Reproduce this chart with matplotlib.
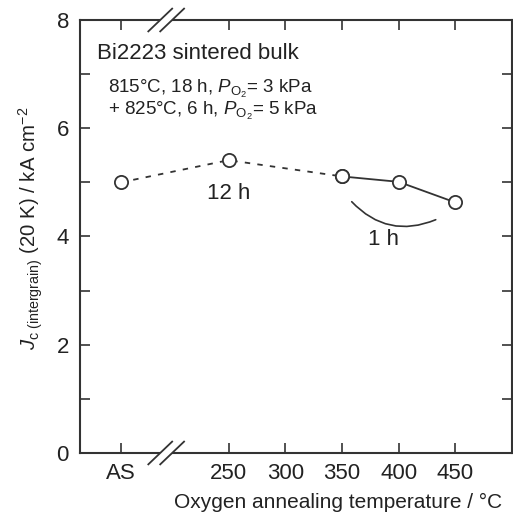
import matplotlib
matplotlib.use("Agg")
import matplotlib.pyplot as plt
from matplotlib.patches import FancyArrowPatch, Polygon

plt.rcParams['font.family'] = ['Liberation Sans', 'DejaVu Sans']
plt.rcParams['mathtext.fontset'] = 'custom'
plt.rcParams['mathtext.rm'] = 'Liberation Sans'
plt.rcParams['mathtext.it'] = 'Liberation Sans:italic'

# Data (AS = as-sintered, placed left of the axis break)
temp_12h = [155, 250, 350]
jc_12h = [5.0, 5.41, 5.11]
temp_1h = [350, 400, 450]
jc_1h = [5.11, 5.01, 4.63]

xtick_pos = [155, 250, 300, 350, 400, 450]
xtick_labels = ['AS', '250', '300', '350', '400', '450']
ytick_major = [0, 2, 4, 6, 8]
ytick_minor = [1, 3, 5, 7]

col = '#333333'
tcol = '#222222'

fig = plt.figure(figsize=(5.13, 5.13), dpi=100)
ax = fig.add_axes([0.156, 0.117, 0.842, 0.844])

ax.plot(temp_12h, jc_12h, ls=(0, (3, 4)), color=col, lw=1.3, marker='o',
        ms=9.5, mfc='white', mec=col, mew=1.3, zorder=3)
ax.plot(temp_1h, jc_1h, ls='-', color=col, lw=1.3, marker='o',
        ms=9.5, mfc='white', mec=col, mew=1.3, zorder=4)

ax.set_xlim(119, 500)
ax.set_ylim(0, 8)
ax.set_xticks(xtick_pos)
ax.set_xticklabels(xtick_labels)
ax.set_yticks(ytick_major)
ax.set_yticks(ytick_minor, minor=True)
ax.tick_params(which='both', direction='in', top=True, right=True,
               length=7, width=1.2, color=col, labelsize=16, labelcolor=tcol,
               pad=7)
ax.tick_params(axis='y', pad=8)
for s in ax.spines.values():
    s.set_linewidth(1.5)
    s.set_color(col)

ax.set_xlabel('Oxygen annealing temperature / °C', fontsize=15, color=tcol,
              loc='right')
ax.xaxis.set_label_coords(0.977, -0.092)
ax.set_ylabel(r'$J_{\mathrm{c\ (intergrain)}}$ (20 K) / kA cm$^{-2}$',
              fontsize=14.7, color=tcol)
ax.yaxis.set_label_coords(-0.08, 0.518)

# axis break marks
bx = 195
dx = 10.5   # half width of a slash (data units)
dy = 0.21   # half height of a slash
gap = 10.5  # spacing between slashes
for yb in (0, 8):
    x1 = bx - gap / 2
    x2 = bx + gap / 2
    ax.add_patch(Polygon([(x1 - dx, yb - dy), (x1 + dx, yb + dy),
                          (x2 + dx, yb + dy), (x2 - dx, yb - dy)],
                         closed=True, facecolor='white', edgecolor='none',
                         clip_on=False, zorder=5))
    for xc in (x1, x2):
        ax.plot([xc - dx, xc + dx], [yb - dy, yb + dy], color=col, lw=1.3,
                clip_on=False, zorder=6)

ax.text(134, 7.39, 'Bi2223 sintered bulk', fontsize=16, color=tcol,
        va='center', ha='left')
ax.text(144, 6.52, '815°C, 18 h, $P_{\\mathrm{O_2}}$= 3 kPa\n'
        '+ 825°C, 6 h, $P_{\\mathrm{O_2}}$= 5 kPa', fontsize=13.5,
        color=tcol, va='center', ha='left', linespacing=1.0)

ax.text(250, 4.8, '12 h', fontsize=16, color=tcol, ha='center', va='center')
ax.text(387, 3.94, '1 h', fontsize=16, color=tcol, ha='center', va='center')

arc = FancyArrowPatch((357, 4.68), (435, 4.33), arrowstyle='-',
                      connectionstyle='arc3,rad=0.36', color=col, lw=1.2)
ax.add_patch(arc)

fig.savefig('out.png', dpi=100)
